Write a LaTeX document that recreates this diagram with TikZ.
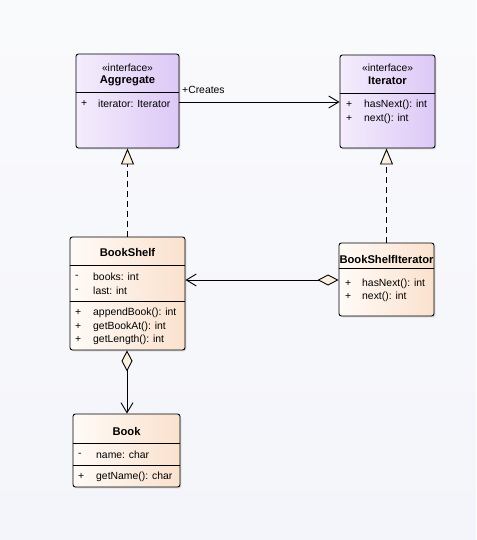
\documentclass[tikz,border=0pt]{standalone}
\usepackage{fontspec}
\setmainfont{Liberation Sans}
\usetikzlibrary{arrows.meta,positioning,calc,shadows}
\definecolor{bgcol}{RGB}{244,245,250}
\definecolor{ifleft}{RGB}{244,237,252}
\definecolor{ifright}{RGB}{221,200,247}
\definecolor{clleft}{RGB}{255,251,247}
\definecolor{clright}{RGB}{250,225,206}
\definecolor{tipfill}{RGB}{252,241,224}
\tikzset{
  umlbox/.style={draw, line width=0.9pt, rounded corners=2.5pt, inner sep=0pt,
    drop shadow={shadow xshift=1.3pt, shadow yshift=-1.3pt, fill=black!30}},
  ifbox/.style={umlbox, left color=ifleft, right color=ifright},
  clbox/.style={umlbox, left color=clleft, right color=clright},
  stereo/.style={inner sep=0pt, font=\fontsize{10.3}{12}\selectfont},
  cname/.style={inner sep=0pt, font=\fontsize{11.2}{13}\selectfont\bfseries},
  mtext/.style={anchor=west, inner sep=0pt, font=\fontsize{10.4}{12}\selectfont},
  link/.style={line width=0.9pt},
  realize/.style={link, dash pattern=on 6pt off 4pt,
    -{Triangle[length=16pt, width=13pt, fill=tipfill, line width=0.9pt]}},
  opentip/.style={link, -{Straight Barb[length=10pt, width=12pt]}},
  aggtip/.style={link, {Diamond[length=21pt, width=11pt, fill=tipfill]}-{Straight Barb[length=10pt, width=12pt]}}
}
% one member row: name, sign x, text x, y, sign, text
\newcommand\member[6]
{
\node[mtext] (#1s) at (#2,#4) {#5};
\node[mtext] (#1) at (#3,#4) {#6};
}

\begin{document}
\begin{tikzpicture}[x=1pt, y=-1pt, line join=round]
\useasboundingbox (0,0) rectangle (476,540);
\fill[top color=white!50!bgcol, bottom color=bgcol] (0,0) rectangle (476,540);
% boxes
\node[ifbox, minimum width=103pt, minimum height=94pt] (agg) at (127.5,101) {};
\node[ifbox, minimum width=95pt, minimum height=93pt] (iter) at (387.5,101.5) {};
\node[clbox, minimum width=115pt, minimum height=113pt] (shelf) at (127.5,293.5) {};
\node[clbox, minimum width=95pt, minimum height=73pt] (shelfit) at (386.5,279.5) {};
\node[clbox, minimum width=107pt, minimum height=73pt] (book) at (126.5,450.5) {};
% compartments
\draw[line width=0.9pt] (agg.west |- 0,92) -- (agg.east |- 0,92);
\draw[line width=0.9pt] (iter.west |- 0,93) -- (iter.east |- 0,93);
\draw[line width=0.9pt] (shelf.west |- 0,265) -- (shelf.east |- 0,265);
\draw[line width=0.9pt] (shelf.west |- 0,301) -- (shelf.east |- 0,301);
\draw[line width=0.9pt] (shelfit.west |- 0,268) -- (shelfit.east |- 0,268);
\draw[line width=0.9pt] (book.west |- 0,443) -- (book.east |- 0,443);
\draw[line width=0.9pt] (book.west |- 0,465) -- (book.east |- 0,465);
% headers
\node[stereo] (aggst) at (127.5,67.5) {«interface»};
\node[cname] (aggname) at (127.5,81) {Aggregate};
\node[stereo] (iterst) at (387.5,67.5) {«interface»};
\node[cname] (itername) at (387.5,81) {Iterator};
\node[cname] (shelfname) at (127.5,252) {BookShelf};
\node[cname] (shelfitname) at (386.5,259) {BookShelfIterator};
\node[cname] (bookname) at (126.5,431) {Book};
% members
\member{aggm}{81}{98}{103.5}{+}{iterator: Iterator}
\member{iterma}{346}{364}{104.5}{+}{hasNext(): int}
\member{itermb}{346}{364}{118.5}{+}{next(): int}
\member{shelfa}{75}{93}{276.5}{-}{books: int}
\member{shelfb}{75}{93}{290.5}{-}{last: int}
\member{shelfc}{75}{93}{312.5}{+}{appendBook(): int}
\member{shelfd}{75}{93}{326.5}{+}{getBookAt(): int}
\member{shelfe}{75}{93}{339.5}{+}{getLength(): int}
\member{shelfita}{345}{362}{283.5}{+}{hasNext(): int}
\member{shelfitb}{345}{362}{296.5}{+}{next(): int}
\member{booka}{78}{96}{454.5}{-}{name: char}
\member{bookb}{78}{96}{476.5}{+}{getName(): char}
% relations
\node[mtext] (creates) at (182,90) {+Creates};
\draw[opentip] (agg.east |- 0,102) -- (iter.west |- 0,102);
\draw[realize] (shelf.north) -- (agg.south);
\draw[realize] (shelfit.north) -- (shelfit.north |- iter.south);
\draw[aggtip] (shelfit.west |- 0,280) -- (shelf.east |- 0,280);
\draw[aggtip] (shelf.south -| 127,0) -- (book.north -| 127,0);
\end{tikzpicture}
\end{document}
